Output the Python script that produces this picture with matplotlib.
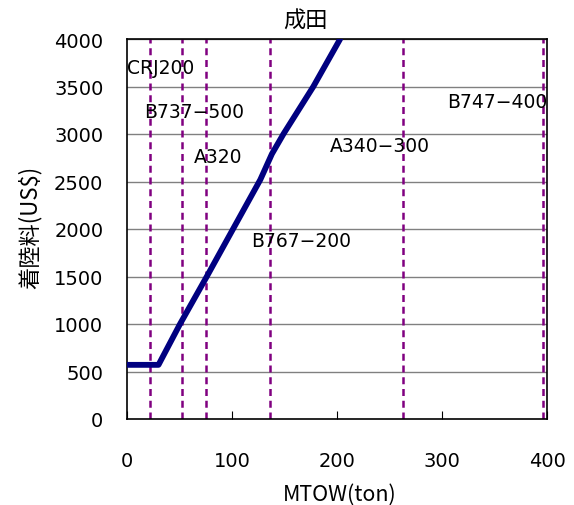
import matplotlib
matplotlib.use("Agg")
import matplotlib.pyplot as plt

plt.rcParams['font.family'] = ['DejaVu Sans', 'Noto Sans CJK JP']

# Landing fee curve (MTOW ton -> US$)
mtow = [0, 30, 50.5, 76, 101, 127, 138, 149, 177.5, 203]
fee = [570, 570, 1000, 1500, 2000, 2520, 2790, 3000, 3500, 4000]

# Aircraft reference lines
aircraft = ["CRJ200", "B737\u2212500", "A320", "B767\u2212200", "A340\u2212300", "B747\u2212400"]
aircraft_mtow = [22, 52, 75, 136, 263, 396]
label_x = [0, 16, 64, 118, 193, 305]
label_y = [3705, 3232, 2763, 1884, 2874, 3337]

xticks = [0, 100, 200, 300, 400]
yticks = [0, 500, 1000, 1500, 2000, 2500, 3000, 3500, 4000]

fig = plt.figure(figsize=(5.74, 5.06), dpi=100)
ax = fig.add_axes([127/574, 1-420/506, 420/574, 380/506])

for y in yticks[1:]:
    ax.axhline(y, color='#808080', lw=1.0, zorder=1)

for m in aircraft_mtow:
    ax.axvline(m, color='#800080', lw=1.8, ls=(0, (2.8, 1.9)), zorder=2)

ax.plot(mtow, fee, color='#000080', lw=4.2, solid_capstyle='round', zorder=3)

for name, lx, ly in zip(aircraft, label_x, label_y):
    ax.text(lx, ly, name, ha='left', va='center', fontsize=13.5, zorder=4)

ax.set_xlim(0, 400)
ax.set_ylim(0, 4000)
ax.set_xticks(xticks)
ax.set_yticks(yticks)
ax.tick_params(axis='x', direction='in', length=6, labelsize=14, pad=23)
ax.tick_params(axis='y', length=0, labelsize=14, pad=17)
for s in ax.spines.values():
    s.set_color('black')
    s.set_linewidth(1.2)

cjk = ['Noto Sans CJK JP', 'DejaVu Sans']
fig.text(305/574, 1-21/506, "成田", ha='center', va='center', fontsize=16, family=cjk)
fig.text(340/574, 1-495/506, "MTOW(ton)", ha='center', va='center', fontsize=15.5, family=cjk)
fig.text(30/574, 1-227/506, "着陸料(US$)", ha='center', va='center', fontsize=16,
         rotation=90, family=cjk)

fig.savefig("out.png", dpi=100)
